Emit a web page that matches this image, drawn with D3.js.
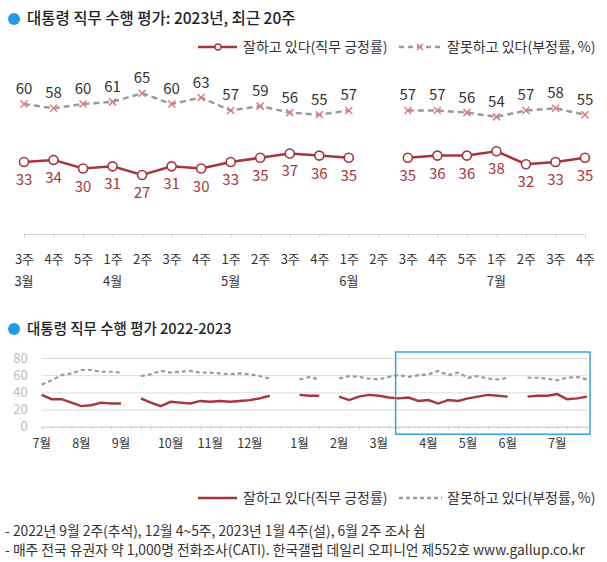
<!DOCTYPE html>
<html>
<head>
<meta charset="utf-8">
<script src="https://cdn.jsdelivr.net/npm/d3@7"></script>
<style>
  html, body { margin: 0; padding: 0; background: #fff; }
  svg { display: block; }
  text { font-family: 'Noto Sans CJK KR', 'Noto Sans', sans-serif; }
</style>
</head>
<body>
<svg id="chart" width="607" height="562"></svg>
<script>
// ---------- DATA ----------
const titleTop = "대통령 직무 수행 평가: 2023년, 최근 20주";
const titleBottom = "대통령 직무 수행 평가 2022-2023";
const seriesNames = ["잘하고 있다(직무 긍정률)", "잘못하고 있다(부정률, %)"];

// Top chart: last 20 weeks of 2023
const topWeekMonths = ["3월","3월","3월","4월","4월","4월","4월","5월","5월","5월","5월","6월","6월","6월","6월","6월","7월","7월","7월","7월"];
const topWeekLabels = ["3주","4주","5주","1주","2주","3주","4주","1주","2주","3주","4주","1주","2주","3주","4주","5주","1주","2주","3주","4주"];
const topApproval    = [33,34,30,31,27,31,30,33,35,37,36,35,null,35,36,36,38,32,33,35];
const topDisapproval = [60,58,60,61,65,60,63,57,59,56,55,57,null,57,57,56,54,57,58,55];

// Bottom chart: weekly 2022.7 - 2023.7
const longWeeks = [
  "2022-7월-1","2022-7월-2","2022-7월-3","2022-7월-4",
  "2022-8월-1","2022-8월-2","2022-8월-3","2022-8월-4",
  "2022-9월-1","2022-9월-2","2022-9월-3","2022-9월-4","2022-9월-5",
  "2022-10월-1","2022-10월-2","2022-10월-3","2022-10월-4",
  "2022-11월-1","2022-11월-2","2022-11월-3","2022-11월-4",
  "2022-12월-1","2022-12월-2","2022-12월-3","2022-12월-4","2022-12월-5",
  "2023-1월-1","2023-1월-2","2023-1월-3","2023-1월-4",
  "2023-2월-1","2023-2월-2","2023-2월-3","2023-2월-4",
  "2023-3월-1","2023-3월-2","2023-3월-3","2023-3월-4","2023-3월-5",
  "2023-4월-1","2023-4월-2","2023-4월-3","2023-4월-4",
  "2023-5월-1","2023-5월-2","2023-5월-3","2023-5월-4",
  "2023-6월-1","2023-6월-2","2023-6월-3","2023-6월-4","2023-6월-5",
  "2023-7월-1","2023-7월-2","2023-7월-3","2023-7월-4"
];
const longApproval = [
  37,32,32,28, 24,25,28,27, 27,null,33,28,24, 29,28,27,30, 29,30,29,30,
  31,33,36,null,null, 37,36,36,null, 35,31,35,37, 36,34,33,34,30,
  31,27,31,30, 33,35,37,36, 35,null,35,36,36, 38,32,33,35
];
const longDisapproval = [
  49,54,60,62, 66,66,64,64, 63,null,59,61,65, 63,64,65,63, 63,62,61,62,
  61,59,56,null,null, 55,58,55,null, 56,59,58,56, 55,58,60,58,60,
  61,65,60,63, 57,59,56,55, 57,null,57,57,56, 54,57,58,55
];
const longYTicks = [0,20,40,60,80];
const footnotes = [
  "- 2022년 9월 2주(추석), 12월 4~5주, 2023년 1월 4주(설), 6월 2주 조사 쉼",
  "- 매주 전국 유권자 약 1,000명 전화조사(CATI). 한국갤럽 데일리 오피니언 제552호 www.gallup.co.kr"
];

// ---------- STYLE ----------
const RED = "#a5373b";
const GRAY = "#9b9b9b";
const PINK = "#e07b7b";
const BLUE = "#1e9be9";
const TXT = "#333";

const svg = d3.select("#chart");

function titleRow(y, text, size) {
  svg.append("circle").attr("cx", 14).attr("cy", y).attr("r", 6).attr("fill", BLUE);
  svg.append("text").attr("x", 27).attr("y", y).attr("dy", "0.35em")
    .attr("font-size", size).attr("font-weight", 500).attr("fill", "#222").text(text);
}

function legendRow(y, withMarkers, dash) {
  svg.append("line").attr("x1", 198).attr("x2", 237).attr("y1", y).attr("y2", y)
    .attr("stroke", RED).attr("stroke-width", 2.5);
  if (withMarkers) {
    svg.append("circle").attr("cx", 218).attr("cy", y).attr("r", 3)
      .attr("fill", "#fff").attr("stroke", RED).attr("stroke-width", 1.3);
  }
  svg.append("text").attr("x", 243).attr("y", y).attr("dy", "0.35em")
    .attr("font-size", 14).attr("fill", TXT).text(seriesNames[0]);
  svg.append("line").attr("x1", 399).attr("x2", 442).attr("y1", y).attr("y2", y)
    .attr("stroke", GRAY).attr("stroke-width", 2.5).attr("stroke-dasharray", dash);
  if (withMarkers) {
    const cx = 420, s = 3;
    svg.append("path").attr("d", `M${cx-s},${y-s}L${cx+s},${y+s}M${cx-s},${y+s}L${cx+s},${y-s}`)
      .attr("stroke", PINK).attr("stroke-width", 1.4);
  }
  svg.append("text").attr("x", 447).attr("y", y).attr("dy", "0.35em")
    .attr("font-size", 14).attr("fill", TXT).text(seriesNames[1]);
}

// ---------- TOP CHART ----------
titleRow(19, titleTop, 15.5);
legendRow(47, true, "5,4");

const topKeys = topWeekLabels.map((w, i) => topWeekMonths[i] + " " + w);
const x1 = d3.scalePoint().domain(topKeys).range([24, 585]).padding(0);
const y1 = d3.scaleLinear().domain([0, 100]).range([233, 18]);

const ax1 = svg.append("g").attr("transform", "translate(0,234)")
  .call(d3.axisBottom(x1).tickSize(4).tickSizeOuter(0).tickFormat((d, i) => topWeekLabels[i]));
ax1.select(".domain").attr("stroke", "#d4d4d4");
ax1.selectAll(".tick line").attr("stroke", "#d4d4d4");
ax1.selectAll(".tick text").attr("y", 25).attr("dy", "0.35em")
  .attr("font-size", 13).attr("fill", TXT)
  .attr("font-family", "'Noto Sans CJK KR', sans-serif");

topKeys.forEach((k, i) => {
  if (i === 0 || topWeekMonths[i] !== topWeekMonths[i - 1]) {
    svg.append("text").attr("x", x1(k)).attr("y", 281).attr("dy", "0.35em")
      .attr("text-anchor", "middle").attr("font-size", 13).attr("fill", TXT)
      .text(topWeekMonths[i]);
  }
});

const topA = topKeys.map((k, i) => ({ k, v: topApproval[i] }));
const topD = topKeys.map((k, i) => ({ k, v: topDisapproval[i] }));
const line1 = d3.line().defined(d => d.v != null).x(d => x1(d.k)).y(d => y1(d.v));

svg.append("path").datum(topD).attr("d", line1).attr("fill", "none")
  .attr("stroke", GRAY).attr("stroke-width", 2.5).attr("stroke-dasharray", "6,4");
svg.append("path").datum(topA).attr("d", line1).attr("fill", "none")
  .attr("stroke", RED).attr("stroke-width", 2.5);

const dPts = topD.filter(d => d.v != null);
svg.selectAll(".xm").data(dPts).enter().append("path")
  .attr("d", d => { const cx = x1(d.k), cy = y1(d.v), s = 3.5;
    return `M${cx-s},${cy-s}L${cx+s},${cy+s}M${cx-s},${cy+s}L${cx+s},${cy-s}`; })
  .attr("stroke", PINK).attr("stroke-width", 1.5).attr("fill", "none");
svg.selectAll(".dl").data(dPts).enter().append("text")
  .attr("x", d => x1(d.k)).attr("y", d => y1(d.v) - 10)
  .attr("text-anchor", "middle").attr("font-size", 15).attr("fill", TXT)
  .text(d => d.v);

const aPts = topA.filter(d => d.v != null);
svg.selectAll(".cm").data(aPts).enter().append("circle")
  .attr("cx", d => x1(d.k)).attr("cy", d => y1(d.v)).attr("r", 4.5)
  .attr("fill", "#fff").attr("stroke", RED).attr("stroke-width", 1.6);
svg.selectAll(".al").data(aPts).enter().append("text")
  .attr("x", d => x1(d.k)).attr("y", d => y1(d.v) + 23)
  .attr("text-anchor", "middle").attr("font-size", 15).attr("fill", RED)
  .text(d => d.v);

// ---------- BOTTOM CHART ----------
titleRow(329, titleBottom, 14.5);

const x2 = d3.scalePoint().domain(longWeeks).range([41.7, 587]).padding(0);
const y2 = d3.scaleLinear().domain([0, 80]).range([426.7, 358]);

const gy = svg.append("g").attr("transform", "translate(41.7,0)")
  .call(d3.axisLeft(y2).tickValues(longYTicks).tickSize(-(587 - 41.7)).tickPadding(14));
gy.select(".domain").remove();
gy.selectAll(".tick line").attr("stroke", "#dcdcdc");
gy.selectAll(".tick text").attr("font-size", 13).attr("fill", "#bdbdbd")
  .attr("font-family", "'Noto Sans CJK KR', sans-serif");

const gx = svg.append("g").attr("transform", `translate(0,${y2(0)})`)
  .call(d3.axisBottom(x2).tickSize(3).tickSizeOuter(0).tickFormat(""));
gx.select(".domain").attr("stroke", "#d0d0d0");
gx.selectAll(".tick line").attr("stroke", "#cfcfcf");

const monthOf = k => k.split("-")[1];
longWeeks.forEach((k, i) => {
  if (i === 0 || monthOf(k) !== monthOf(longWeeks[i - 1])) {
    svg.append("text").attr("x", x2(k)).attr("y", 444).attr("dy", "0.35em")
      .attr("text-anchor", "middle").attr("font-size", 12.5).attr("fill", TXT)
      .text(monthOf(k));
  }
});

const longA = longWeeks.map((k, i) => ({ k, v: longApproval[i] }));
const longD = longWeeks.map((k, i) => ({ k, v: longDisapproval[i] }));
const line2 = d3.line().defined(d => d.v != null).x(d => x2(d.k)).y(d => y2(d.v));

svg.append("path").datum(longD).attr("d", line2).attr("fill", "none")
  .attr("stroke", GRAY).attr("stroke-width", 2.2).attr("stroke-dasharray", "4,3");
svg.append("path").datum(longA).attr("d", line2).attr("fill", "none")
  .attr("stroke", RED).attr("stroke-width", 2.4);

const hlStart = longWeeks[longWeeks.length - topKeys.length];
const hlEnd = longWeeks[longWeeks.length - 1];
svg.append("rect")
  .attr("x", x2(hlStart) - 3).attr("y", y2(80) - 6)
  .attr("width", x2(hlEnd) + 3 - (x2(hlStart) - 3))
  .attr("height", (y2(0) + 7.5) - (y2(80) - 6))
  .attr("fill", "none").attr("stroke", "#33a6e0").attr("stroke-width", 1.5);

legendRow(498, false, "4,3");

footnotes.forEach((t, i) => {
  svg.append("text").attr("x", 5).attr("y", 531 + i * 19).attr("dy", "0.35em")
    .attr("font-size", 13.8).attr("fill", TXT).text(t);
});
</script>
</body>
</html>
